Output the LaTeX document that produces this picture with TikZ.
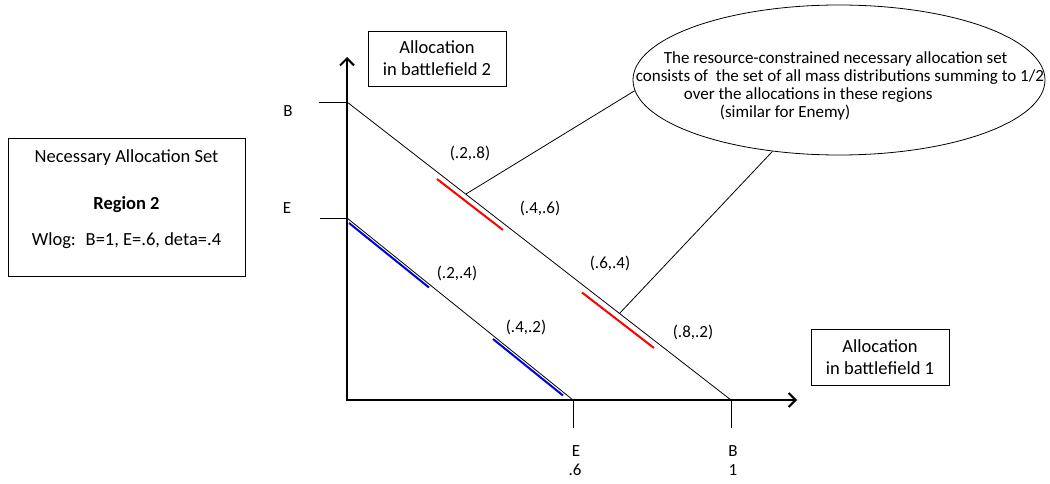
\documentclass[tikz,border=0pt]{standalone}
\usepackage{fontspec}
\setmainfont{Carlito}
\usetikzlibrary{arrows.meta,shapes.geometric}

\begin{document}
\begin{tikzpicture}[x=1pt,y=-1pt,
every node/.style={font=\fontsize{17}{22}\selectfont,inner sep=0pt},
box/.style={draw,line width=0.9pt,align=center},
big/.style={font=\fontsize{18.5}{22}\selectfont},
axis/.style={line width=2pt,{Straight Barb[length=7pt,width=14pt]}-{Straight Barb[length=7pt,width=14pt]}},
thin/.style={line width=0.8pt},
redseg/.style={line width=2pt,red},
blueseg/.style={line width=2pt,blue!90!black}]
\useasboundingbox (0,0) rectangle (1050,484);
% info box and axis titles
\node[box,minimum width=237pt,minimum height=138pt] (info) at (126.5,207) {};
\node[big,align=center] (infotext) at (126.5,199.5)
  {Necessary Allocation Set\\[25pt]\textbf{Region 2}\\[14pt]Wlog:~ B=1, E=.6, deta=.4};
\node[box,big,minimum width=138pt,minimum height=55pt] (ytitle) at (437,58.5) {Allocation\\in battlefield 2};
\node[box,big,minimum width=138pt,minimum height=56pt] (xtitle) at (880,357) {Allocation\\in battlefield 1};
% axes
\coordinate (O) at (347,400);
\coordinate (ytip) at (347,57);
\coordinate (xtip) at (797,400);
\draw[axis] (ytip) -- (O) -- (xtip);
\coordinate (Bv) at (347,102);
\coordinate (Ev) at (347,218);
\coordinate (Bh) at (731,400);
\coordinate (Eh) at (573,400);
\draw[thin] (Bv) -- ++(-28,0);
\draw[thin] (Ev) -- ++(-27,0);
\draw[thin] (Bh) -- ++(0,28);
\draw[thin] (Eh) -- ++(0,28);
\node (lB) at (288,111) {B};
\node (lE) at (287,208) {E};
\node (bE) at (576,451) {E};
\node (b6) at (575,470) {.6};
\node (bB) at (733,451) {B};
\node (b1) at (733,470) {1};
% budget lines
\draw[thin] (Bv) -- (Bh);
\draw[thin] (Ev) -- (Eh);
% necessary regions
\draw[redseg] (437,179) -- (503,230);
\draw[redseg] (582,292.5) -- (654,348);
\draw[blueseg] (349,223) -- (429,287.5);
\draw[blueseg] (493,339) -- (563,395.5);
% point labels
\node (p28) at (470,153) {(.2,.8)};
\node (p46) at (540,208) {(.4,.6)};
\node (p64) at (610,263) {(.6,.4)};
\node (p82) at (693,332) {(.8,.2)};
\node (p24) at (457,273) {(.2,.4)};
\node (p42) at (526,327) {(.4,.2)};
% callout
\node[draw,thin,ellipse,minimum width=412pt,minimum height=150pt] (note) at (839,80) {};
\node[align=left,font=\fontsize{17}{18}\selectfont] (notetext) at (840,86)
  {\hspace*{28pt}The resource-constrained necessary allocation set\\
   consists of~ the set of all mass distributions summing to 1/2\\
   \hspace*{48pt}over the allocations in these regions\\
   \hspace*{84pt}(similar for Enemy)};
\coordinate (hit1) at (466,194);
\coordinate (hit2) at (619,314);
\draw[thin] (hit1) -- (note.183);
\draw[thin] (hit2) -- (note.227);
\end{tikzpicture}
\end{document}
